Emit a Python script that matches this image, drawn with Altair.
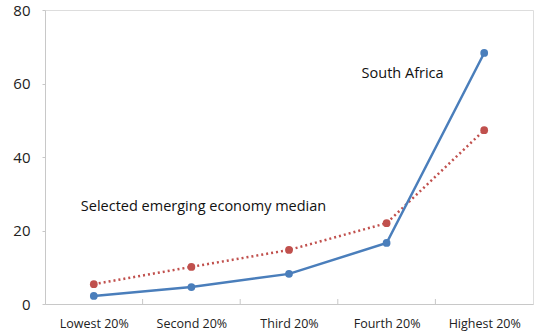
import altair as alt
import pandas as pd

quintiles = ["Lowest 20%", "Second 20%", "Third 20%", "Fourth 20%", "Highest 20%"]
south_africa = [2.2, 4.6, 8.2, 16.6, 68.3]
emerging_median = [5.4, 10.1, 14.7, 22.0, 47.3]

df = pd.DataFrame({
    "quintile": quintiles * 2,
    "share": south_africa + emerging_median,
    "series": ["South Africa"] * 5 + ["Selected emerging economy median"] * 5,
})

W, H = 488, 294
STEP = W / len(quintiles)
FONT = "Open Sans"

x_enc = alt.X("quintile:N", sort=quintiles,
              scale=alt.Scale(type="point", padding=0.5, domain=quintiles),
              axis=alt.Axis(title=None, labelAngle=0, labelAlign="center",
                            labelBaseline="top", labelFontSize=12.5,
                            labelColor="#222222", labelPadding=13, ticks=False,
                            domainColor="#C8C8C8", labelFont=FONT))
y_scale = alt.Scale(domain=[0, 80], nice=False)
y_axis = alt.Axis(title=None, values=[0, 20, 40, 60, 80], grid=False,
                  labelFontSize=15, labelColor="#222222", labelPadding=12,
                  tickSize=3, tickColor="#C8C8C8", domainColor="#C8C8C8",
                  labelFont=FONT)

colors = alt.Scale(domain=["South Africa", "Selected emerging economy median"],
                   range=["#4A7EBB", "#C0504D"])

base = alt.Chart(df)

sa = base.transform_filter(alt.datum.series == "South Africa").mark_line(
    strokeWidth=2.5, point=alt.OverlayMarkDef(size=60, filled=True, opacity=1)
).encode(
    x=x_enc,
    y=alt.Y("share:Q", scale=y_scale, axis=y_axis),
    color=alt.Color("series:N", scale=colors, legend=None),
)

med = base.transform_filter(alt.datum.series != "South Africa").mark_line(
    strokeWidth=2.5, strokeDash=[2, 3],
    point=alt.OverlayMarkDef(size=60, filled=True, opacity=1)
).encode(
    x=alt.X("quintile:N", sort=quintiles),
    y=alt.Y("share:Q"),
    color=alt.Color("series:N", scale=colors, legend=None),
)

# inward category-boundary ticks on the x axis
tick_df = pd.DataFrame({"quintile": quintiles[1:]})
ticks = alt.Chart(tick_df).mark_rule(color="#C8C8C8", xOffset=-STEP / 2).encode(
    x=alt.X("quintile:N", sort=quintiles),
    y=alt.value(H),
    y2=alt.value(H - 5),
)

labels_df = pd.DataFrame({
    "quintile": ["Fourth 20%", "Lowest 20%"],
    "share": [62.6, 26.4],
    "text": ["South Africa", "Selected emerging economy median"],
})
sa_label = alt.Chart(labels_df.iloc[[0]]).mark_text(
    align="center", dx=16, fontSize=14.5, font=FONT, color="#111111"
).encode(x=alt.X("quintile:N", sort=quintiles), y="share:Q", text="text:N")
med_label = alt.Chart(labels_df.iloc[[1]]).mark_text(
    align="left", dx=-13, fontSize=14.5, font=FONT, color="#111111"
).encode(x=alt.X("quintile:N", sort=quintiles), y="share:Q", text="text:N")

chart = alt.layer(ticks, med, sa, sa_label, med_label).properties(
    width=W, height=H,
    padding={"left": 45, "top": 10, "right": 1, "bottom": 31},
    autosize=alt.AutoSizeParams(type="none"),
).configure_view(stroke="#D9D9D9", strokeWidth=1).configure(background="white")

chart.save("out.html", embed_options={"renderer": "svg", "actions": False})
